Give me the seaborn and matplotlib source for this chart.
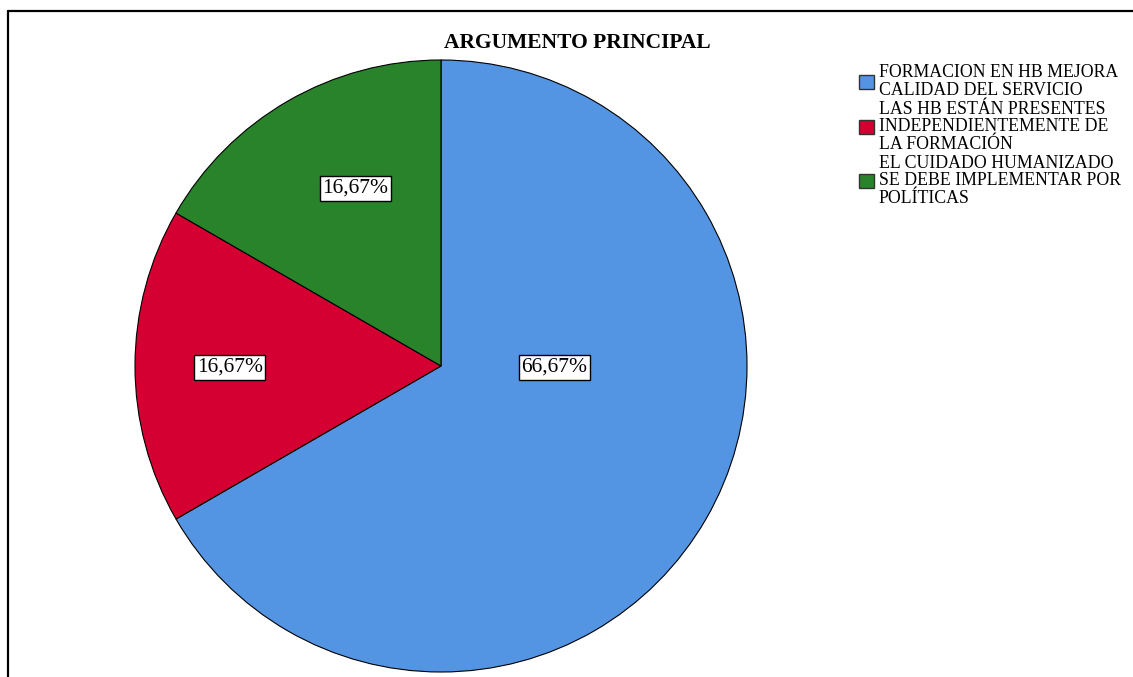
import matplotlib
matplotlib.use("Agg")
import matplotlib.pyplot as plt
import seaborn as sns
from matplotlib.lines import Line2D
from matplotlib.patches import Patch

categories = [
    "FORMACION EN HB MEJORA\nCALIDAD DEL SERVICIO",
    "LAS HB ESTÁN PRESENTES\nINDEPENDIENTEMENTE DE\nLA FORMACIÓN",
    "EL CUIDADO HUMANIZADO\nSE DEBE IMPLEMENTAR POR\nPOLÍTICAS",
]
values = [66.67, 16.67, 16.67]
pct_labels = ["66,67%", "16,67%", "16,67%"]
colors = ["#5495e3", "#d40032", "#28832a"]
title = "ARGUMENTO PRINCIPAL"

sns.set_theme(style="white")
plt.rcParams["font.family"] = ["Liberation Serif", "DejaVu Serif"]
plt.rcParams["text.color"] = "black"

fig = plt.figure(figsize=(11.33, 6.77), dpi=100)
W, H = 1133, 677
cx, cy, r = 441, 366, 306
ax = fig.add_axes([(cx - r) / W, (H - cy - r) / H, 2 * r / W, 2 * r / H])

wedges, texts = ax.pie(
    values, colors=colors, startangle=90, counterclock=False, radius=1,
    wedgeprops=dict(edgecolor="black", linewidth=0.8),
)
ax.set_xlim(-1, 1)
ax.set_ylim(-1, 1)

# label spots as SPSS places them (fraction of radius)
label_pos = [(0.37, -0.005), (-0.69, -0.005), (-0.28, 0.58)]
for lab, (x, y) in zip(pct_labels, label_pos):
    ax.text(x, y, lab, ha="center", va="center", fontsize=15.5, color="black",
            bbox=dict(facecolor="white", edgecolor="black",
                      boxstyle="square,pad=0.12", linewidth=1))

fig.text(577 / W, 1 - 43 / H, title, ha="center", va="center",
         fontsize=15.5, fontweight="bold", color="black")

handles = [Patch(facecolor=c, edgecolor="#333333", linewidth=1) for c in colors]
leg = fig.legend(handles, categories, loc="upper left",
                 bbox_to_anchor=(859 / W, 1 - 64 / H), frameon=False,
                 fontsize=12.8, handlelength=0.85, handleheight=0.85,
                 handletextpad=0.25, labelspacing=0.12, borderpad=0,
                 borderaxespad=0)
for t in leg.get_texts():
    t.set_linespacing(1.04)
    t.set_color("black")

# outer frame (cropped on right and bottom)
fig.add_artist(Line2D([8 / W, 1.0], [1 - 11 / H, 1 - 11 / H], color="black", lw=1.6))
fig.add_artist(Line2D([8 / W, 8 / W], [1 - 11 / H, 0.0], color="black", lw=1.6))

fig.savefig("out.png", dpi=100)
